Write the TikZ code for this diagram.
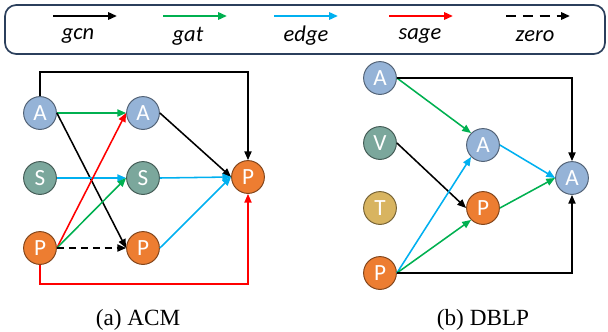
\documentclass[tikz,border=0pt]{standalone}
\usepackage{fontspec}
\setmainfont{Liberation Serif}
\newfontfamily\calibri{Carlito}
\usetikzlibrary{arrows.meta}

\definecolor{gatgreen}{HTML}{00B050}
\definecolor{edgeblue}{HTML}{00B0F0}
\definecolor{sagered}{HTML}{FF0000}
\definecolor{afill}{HTML}{95B3D7}
\definecolor{sfill}{HTML}{7BA79C}
\definecolor{pfill}{HTML}{ED7D31}
\definecolor{tfill}{HTML}{D8B460}
\definecolor{boxline}{HTML}{2B3F5C}

\tikzset{
  vert/.style={circle,draw=#1!55!black,fill=#1,line width=0.7pt,minimum size=0.82cm,
    inner sep=0pt,text=white,font=\calibri\fontsize{16.5}{16.5}\selectfont},
  link/.style={line width=1.1pt,-{Triangle[length=2.2mm,width=1.8mm]}},
  gcnline/.style={link,black},
  gatline/.style={link,gatgreen},
  edgeline/.style={link,edgeblue},
  sageline/.style={link,sagered},
  zeroline/.style={link,black,dash pattern=on 5pt off 3.5pt},
  legzero/.style={dash pattern=on 7pt off 5pt},
  legtext/.style={font=\calibri\itshape\fontsize{16}{16}\selectfont},
  caption/.style={font=\fontsize{16.5}{16.5}\selectfont}
}

\begin{document}
\begin{tikzpicture}[x=0.025cm,y=-0.025cm]
  \useasboundingbox (0,0) rectangle (608,331);

  % legend
  \draw[boxline,line width=1.2pt,rounded corners=8pt] (5,5) rectangle (605,54);
  \foreach \s/\x/\y/\o in {gcn/78/85/solid,gat/188/195/solid,edge/306/306/solid,
                           sage/420/421/solid,zero/535/538/legzero}
    {
      \node[legtext] (l\s) at (\x,36) {\s};
      \coordinate (\s a) at (\y-32,16);
      \coordinate (\s b) at (\y+32,16);
      \draw[\s line,line width=1.7pt,\o] (\s a) -- (\s b);
    }

  % (a) ACM
  \node[vert=afill] (a1) at (40,113) {A};
  \node[vert=sfill] (s1) at (40,178) {S};
  \node[vert=pfill] (p1) at (40,248) {P};
  \node[vert=afill] (a2) at (143,113) {A};
  \node[vert=sfill] (s2) at (143,178) {S};
  \node[vert=pfill] (p2) at (143,248) {P};
  \node[vert=pfill] (p3) at (248,177) {P};

  \draw[gatline] (a1.east) -- (a2.west);
  \draw[gcnline] (a1.east) -- (p2.west);
  \draw[edgeline] (s1.east) -- (s2.west);
  \draw[sageline] (p1.east) -- (a2.west);
  \draw[gatline] (p1.east) -- (s2.west);
  \draw[zeroline] (p1.east) -- (p2.west);
  \draw[gcnline] (a2.east) -- (p3.west);
  \draw[edgeline] (s2.east) -- (p3.west);
  \draw[edgeline] (p2.east) -- (p3.west);
  \draw[gcnline] (a1.north) -- ++(0,-24) -| (p3.north);
  \draw[sageline] (p1.south) -- ++(0,19) -| (p3.south);

  % (b) DBLP
  \node[vert=afill] (a4) at (380,78) {A};
  \node[vert=sfill] (v4) at (380,143) {V};
  \node[vert=tfill] (t4) at (380,208) {T};
  \node[vert=pfill] (p4) at (380,273) {P};
  \node[vert=afill] (a5) at (483,145) {A};
  \node[vert=pfill] (p5) at (483,208) {P};
  \node[vert=afill] (a6) at (572,178) {A};

  \draw[gatline] (a4.east) -- (a5.north west);
  \draw[gcnline] (v4.east) -- (p5.west);
  \draw[edgeline] (p4.east) -- (a5.south west);
  \draw[gatline] (p4.east) -- (p5.south west);
  \draw[edgeline] (a5.east) -- (a6.west);
  \draw[gatline] (p5.east) -- (a6.west);
  \draw[gcnline] (a4.east) -| (a6.north);
  \draw[gcnline] (p4.east) -| (a6.south);

  \node[caption] (capa) at (138,320) {(a) ACM};
  \node[caption] (capb) at (483,320) {(b) DBLP};
\end{tikzpicture}
\end{document}
